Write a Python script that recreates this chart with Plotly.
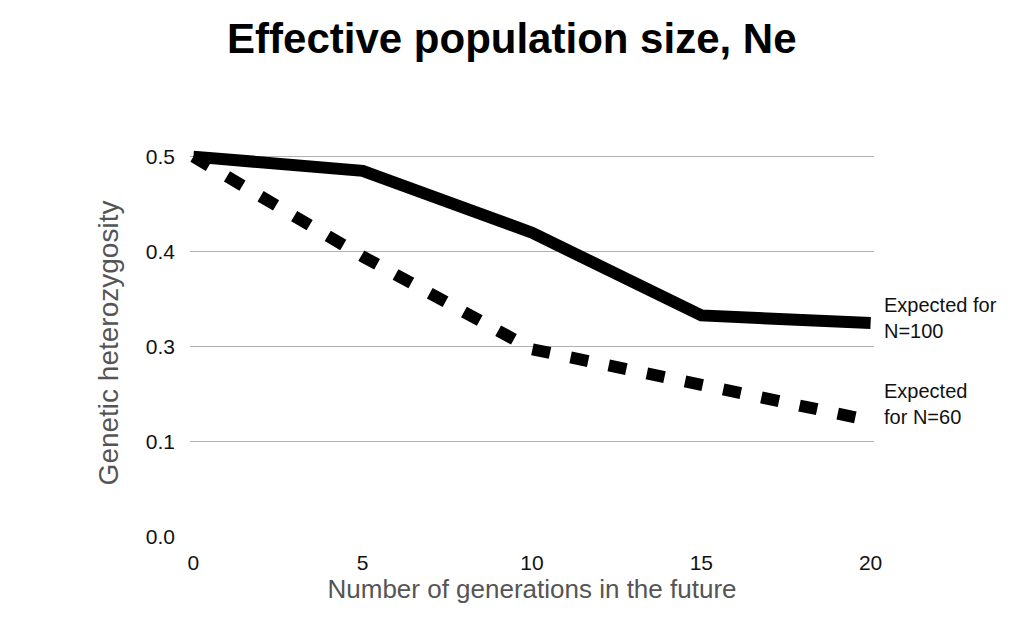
import numpy as np
import plotly.graph_objects as go

generations = [0, 5, 10, 15, 20]
het_n100 = [0.5, 0.485, 0.42, 0.333, 0.325]
het_n60 = [0.5, 0.395, 0.295, 0.22, 0.145]

y_tick_labels = ["0.0", "0.1", "0.3", "0.4", "0.5"]
y_tick_values = [0.0, 0.1, 0.3, 0.4, 0.5]
y_tick_pos = list(range(len(y_tick_values)))

def to_pos(vals):
    return np.interp(vals, y_tick_values, y_tick_pos)

fig = go.Figure()
fig.add_trace(go.Scatter(x=generations, y=to_pos(het_n100), mode="lines",
                         line=dict(color="black", width=12), showlegend=False))
fig.add_trace(go.Scatter(x=generations, y=to_pos(het_n60), mode="lines",
                         line=dict(color="black", width=12, dash="18px,21px"), showlegend=False))

font = "Liberation Sans, Arial, Helvetica, sans-serif"
fig.add_annotation(x=1, xref="paper", xanchor="left", xshift=8,
                   y=to_pos(het_n100[-1]), yref="y", yanchor="middle", yshift=5,
                   text="Expected for<br>N=100", showarrow=False, align="left",
                   font=dict(family=font, size=20, color="#111"))
fig.add_annotation(x=1, xref="paper", xanchor="left", xshift=8,
                   y=to_pos(het_n60[-1]), yref="y", yanchor="middle", yshift=17,
                   text="Expected<br>for N=60", showarrow=False, align="left",
                   font=dict(family=font, size=20, color="#111"))

fig.update_layout(
    width=1024, height=627,
    margin=dict(l=182, r=158, t=141, b=98),
    paper_bgcolor="white", plot_bgcolor="white",
    title=dict(text="<b>Effective population size, Ne</b>", x=0.492, xanchor="center",
               y=0.952, yanchor="middle", font=dict(family=font, size=42, color="black")),
    font=dict(family=font),
    xaxis=dict(range=[-0.1, 20.1], tickvals=generations, showgrid=False, zeroline=False,
               showline=False, tickfont=dict(size=21, color="#111"),
               ticklabelstandoff=11,
               title=dict(text="Number of generations in the future", standoff=6,
                          font=dict(size=26, color="#555"))),
    yaxis=dict(range=[0, 4.08], tickvals=y_tick_pos, ticktext=y_tick_labels,
               showgrid=True, gridcolor="#b0b0b0", gridwidth=1, zeroline=False,
               showline=False, tickfont=dict(size=21, color="#111"),
               ticklabelstandoff=14,
               title=dict(text="Genetic heterozygosity", standoff=18,
                          font=dict(size=28, color="#555"))),
)

fig.write_html("out.html")
